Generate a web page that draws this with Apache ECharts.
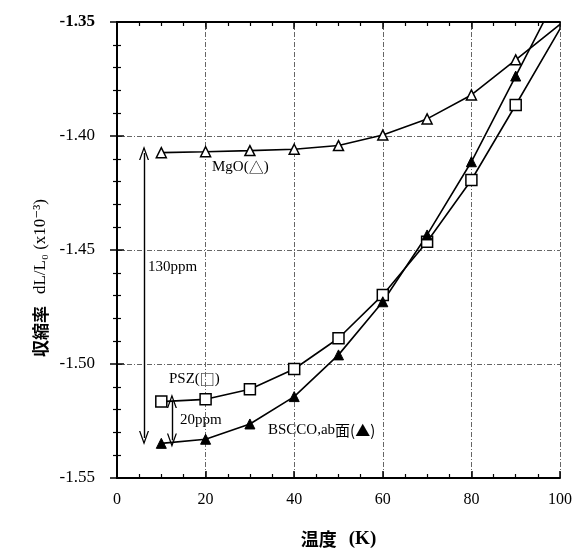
<!DOCTYPE html>
<html>
<head>
<meta charset="utf-8">
<script src="https://cdn.jsdelivr.net/npm/echarts@6/dist/echarts.min.js"></script>
<style>
html,body{margin:0;padding:0;background:#fff;}
#chart{width:582px;height:556px;}
</style>
</head>
<body>
<div id="chart"></div>
<script>
// ---- data ----
var temps = [10, 20, 30, 40, 50, 60, 70, 80, 90, 100];
var mgo   = [-1.4073, -1.4069, -1.4064, -1.4058, -1.4042, -1.3996, -1.3925, -1.3820, -1.3666, -1.3510];
var psz   = [-1.5165, -1.5155, -1.5111, -1.5022, -1.4887, -1.4697, -1.4464, -1.4193, -1.3864, -1.3530];
var bscco = [-1.5348, -1.5330, -1.5263, -1.5143, -1.4960, -1.4727, -1.4434, -1.4113, -1.3737, -1.3360];
var xTicks = [0, 20, 40, 60, 80, 100];
var yTicks = [-1.55, -1.50, -1.45, -1.40, -1.35];
// annotation arrows (data coords)
var bigArrowX = 6.1, bigArrowTop = -1.4075, bigArrowBottom = -1.5325;
var smallArrowX = 12.4, smallArrowTop = -1.5162, smallArrowBottom = -1.5335;

var serif = '"Liberation Serif","DejaVu Serif",serif';
var cjk = '"Noto Sans CJK JP","Liberation Serif",serif';
var chev = 'path://M0,0 L5,12 L3.7,12 L0,3.2 L-3.7,12 L-5,12 Z';

function seriesData(vals) {
  return temps.map(function (t, i) {
    var d = { value: [t, vals[i]] };
    if (i === temps.length - 1) d.symbol = 'none';
    return d;
  });
}

var chart = echarts.init(document.getElementById('chart'), null, { renderer: 'canvas' });
var gridLine = { show: true, lineStyle: { color: '#666', width: 1, type: [5, 2, 1, 2] } };
var axisLine = { show: true, lineStyle: { color: '#000', width: 2 } };

var labelRich = {
  s: { fontFamily: serif, fontSize: 15, color: '#000' },
  g: { fontFamily: cjk, fontSize: 15, color: '#000' }
};

var option = {
  backgroundColor: '#fff',
  animation: false,
  grid: { left: 117, right: 22, top: 22, bottom: 78, containLabel: false },
  xAxis: [{
    type: 'value', min: xTicks[0], max: xTicks[xTicks.length - 1], interval: 20,
    axisLine: axisLine,
    axisTick: { inside: true, length: 7, lineStyle: { color: '#000', width: 1.5 } },
    minorTick: { show: true, splitNumber: 4, length: 4, lineStyle: { color: '#000', width: 1.2 } },
    splitLine: gridLine,
    axisLabel: { margin: 14, color: '#000', fontFamily: serif, fontSize: 16 },
    name: '{k|温度}\u3000{t|(K)}', nameLocation: 'middle', nameGap: 52,
    nameTextStyle: {
      rich: {
        k: { fontFamily: cjk, fontSize: 18, fontWeight: 'bold', color: '#000' },
        t: { fontFamily: serif, fontSize: 19, fontWeight: 'bold', color: '#000' }
      }
    }
  }, {
    type: 'value', position: 'top', min: 0, max: 100, interval: 20,
    axisLine: axisLine,
    axisTick: { inside: true, length: 7, lineStyle: { color: '#000', width: 1.5 } },
    minorTick: { show: true, splitNumber: 4, length: 4, lineStyle: { color: '#000', width: 1.2 } },
    splitLine: { show: false }, axisLabel: { show: false }
  }],
  yAxis: [{
    type: 'value', min: yTicks[0], max: yTicks[yTicks.length - 1], interval: 0.05,
    axisLine: axisLine,
    axisTick: { inside: true, length: 7, lineStyle: { color: '#000', width: 1.5 } },
    minorTick: { show: true, splitNumber: 5, length: 4, lineStyle: { color: '#000', width: 1.2 } },
    splitLine: gridLine,
    axisLabel: {
      margin: 22, color: '#000', fontFamily: serif, fontSize: 17,
      formatter: function (v) {
        var s = v.toFixed(2);
        return Math.abs(v - yTicks[yTicks.length - 1]) < 1e-9 ? '{b|' + s + '}' : s;
      },
      rich: { b: { fontWeight: 'bold', fontFamily: serif, fontSize: 17, color: '#000' } }
    },
    name: '{k|収縮率}\u3000{t|dL/L₀ (x10⁻³)}', nameLocation: 'middle', nameGap: 68,
    nameTextStyle: {
      padding: [0, 56, 0, 0],
      rich: {
        k: { fontFamily: cjk, fontSize: 17, fontWeight: 'bold', color: '#000' },
        t: { fontFamily: serif, fontSize: 17, color: '#000' }
      }
    }
  }, {
    type: 'value', position: 'right', min: -1.55, max: -1.35, interval: 0.05,
    axisLine: axisLine,
    axisTick: { inside: true, length: 7, lineStyle: { color: '#000', width: 1.5 } },
    minorTick: { show: true, splitNumber: 5, length: 4, lineStyle: { color: '#000', width: 1.2 } },
    splitLine: { show: false }, axisLabel: { show: false }
  }],
  series: [{
    name: 'MgO', type: 'line', clip: true,
    data: seriesData(mgo),
    symbol: 'triangle', symbolSize: 10,
    itemStyle: { color: '#fff', borderColor: '#000', borderWidth: 1.5 },
    lineStyle: { color: '#000', width: 1.6 },
    markLine: {
      silent: true, symbol: [chev, chev], symbolSize: [10, 14],
      lineStyle: { color: '#000', width: 1.4, type: 'solid' },
      itemStyle: { color: '#000' },
      label: { show: false },
      data: [
        [{ coord: [bigArrowX, bigArrowTop] }, { coord: [bigArrowX, bigArrowBottom] }],
        [{ coord: [smallArrowX, smallArrowTop] }, { coord: [smallArrowX, smallArrowBottom] }]
      ]
    }
  }, {
    name: 'PSZ', type: 'line', clip: true,
    data: seriesData(psz),
    symbol: 'rect', symbolSize: 11,
    itemStyle: { color: '#fff', borderColor: '#000', borderWidth: 1.5 },
    lineStyle: { color: '#000', width: 1.6 }
  }, {
    name: 'BSCCO', type: 'line', clip: true,
    data: seriesData(bscco),
    symbol: 'triangle', symbolSize: 10,
    itemStyle: { color: '#000', borderColor: '#000', borderWidth: 1 },
    lineStyle: { color: '#000', width: 1.6 }
  }],
  graphic: [
    { type: 'text', left: 212, top: 160, style: { text: '{s|MgO(}{g|△}{s|)}', rich: labelRich } },
    { type: 'text', left: 148, top: 260, style: { text: '{s|130ppm}', rich: labelRich } },
    { type: 'text', left: 169, top: 372, style: { text: '{s|PSZ(}{g|□}{s|)}', rich: labelRich } },
    { type: 'text', left: 180, top: 413, style: { text: '{s|20ppm}', rich: labelRich } },
    { type: 'text', left: 268, top: 423, style: { text: '{s|BSCCO,ab}{g|面(▲)}', rich: labelRich } }
  ]
};
chart.setOption(option);
</script>
</body>
</html>
